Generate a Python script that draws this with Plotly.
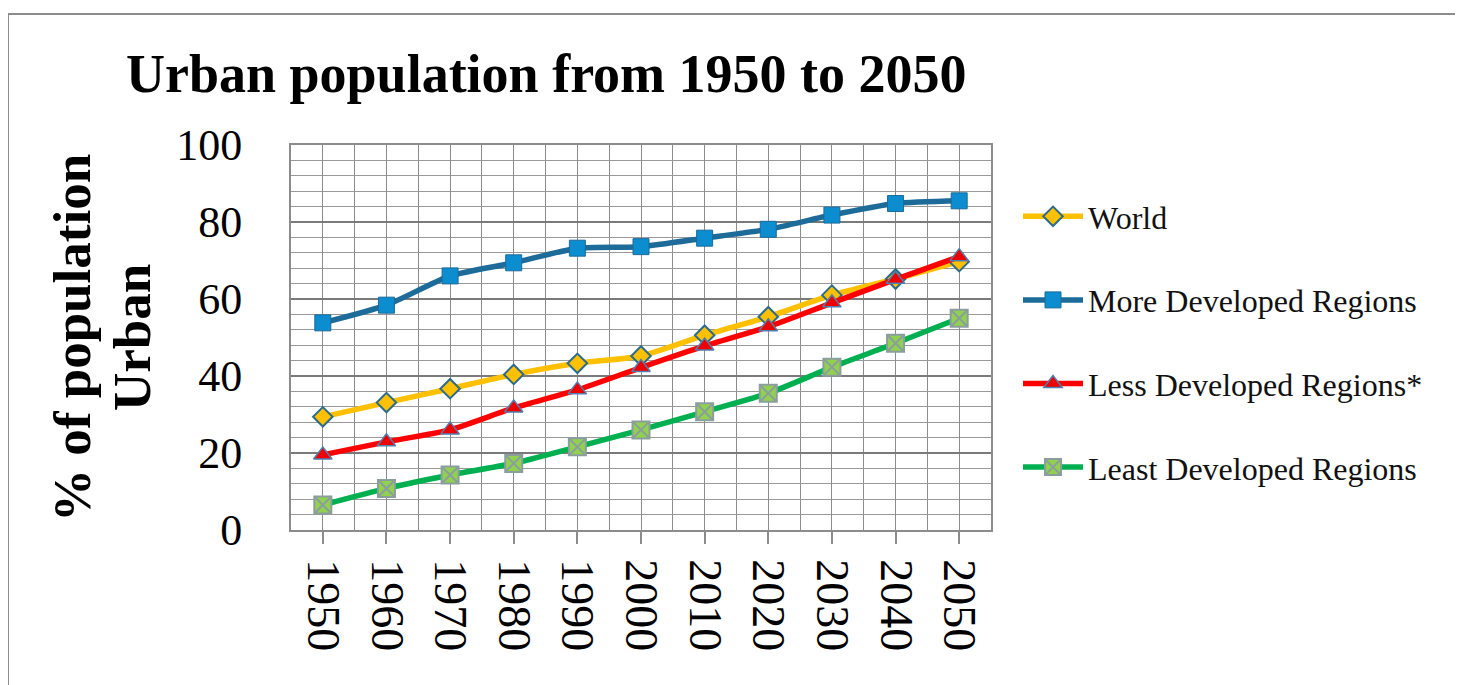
import plotly.graph_objects as go

years = [1950, 1960, 1970, 1980, 1990, 2000, 2010, 2020, 2030, 2040, 2050]
tick_labels = [str(y) for y in years]
world = [29.4, 33.1, 36.7, 40.4, 43.3, 45.2, 50.6, 55.4, 61.0, 65.2, 69.7]
more_dev = [53.8, 58.4, 66.0, 69.4, 73.2, 73.6, 75.8, 78.1, 81.8, 84.8, 85.5]
less_dev = [19.5, 22.9, 26.0, 31.7, 36.4, 42.2, 47.8, 52.8, 59.0, 65.1, 71.0]
least_dev = [6.5, 10.8, 14.3, 17.3, 21.6, 26.0, 30.7, 35.5, 42.3, 48.5, 55.0]

SERIF = "Liberation Serif, DejaVu Serif, serif"
W, H = 1463, 685
OFF = 8  # page offset of the figure in the browser
L, R, T, B = 283, 480, 137, 163
pw, ph = W - L - R, H - T - B

fig = go.Figure()

series = [
    ("World", world, "#FFC000", dict(symbol="diamond", size=15, color="#FFC000",
                                     line=dict(color="#2B6C8C", width=2))),
    ("More Developed Regions", more_dev, "#1D6B99", dict(symbol="square", size=16, color="#0B8DCF",
                                                         line=dict(color="#1D6B99", width=1))),
    ("Less Developed Regions*", less_dev, "#FF0000", dict(symbol="triangle-up", size=16, color="#EE0000",
                                                          line=dict(color="#4F7FAF", width=1.5))),
    ("Least Developed Regions", least_dev, "#00B050", dict(symbol="square-x", size=17, color="#92D050",
                                                           line=dict(color="#8A9E9E", width=2))),
]
for i, (name, vals, col, mk) in enumerate(series):
    fig.add_trace(go.Scatter(
        x=years, y=vals, name=name, mode="lines+markers",
        line=dict(color=col, width=5.5, shape="spline", smoothing=0.6),
        marker=mk, legendgroup=f"g{i}",
    ))

def px_to_paper_x(px):
    return (px - OFF - L) / pw

def px_to_paper_y(py):
    return (H - B - (py - OFF)) / ph

fig.update_layout(
    width=W, height=H,
    margin=dict(l=L, r=R, t=T, b=B),
    paper_bgcolor="white", plot_bgcolor="white",
    font=dict(family=SERIF, color="#000000"),
    showlegend=True,
    legend=dict(
        x=px_to_paper_x(1018), y=px_to_paper_y(189), xanchor="left", yanchor="top",
        font=dict(size=32, family=SERIF, color="#111111"),
        tracegroupgap=39, itemwidth=60, bgcolor="rgba(0,0,0,0)",
    ),
    xaxis=dict(
        range=[1945, 2055], tickvals=years, ticktext=tick_labels,
        tickangle=90, tickfont=dict(size=46, family=SERIF),
        showgrid=True, gridcolor="#8C8C8C", gridwidth=1,
        ticks="outside", ticklen=12, tickcolor="#8C8C8C", tickwidth=1.5,
        showline=True, linecolor="#8C8C8C", linewidth=2, mirror=True,
        minor=dict(tickvals=[1945 + 10 * k for k in range(12)], showgrid=True,
                   gridcolor="#8C8C8C", gridwidth=1),
        zeroline=False, ticklabelstandoff=6,
    ),
    yaxis=dict(
        range=[0, 100], dtick=20, tick0=0,
        tickfont=dict(size=44, family=SERIF),
        showgrid=True, gridcolor="#7A7A7A", gridwidth=1.5,
        showline=True, linecolor="#8C8C8C", linewidth=2, mirror=True,
        minor=dict(dtick=4, showgrid=True, gridcolor="#999999", gridwidth=1),
        zeroline=False, ticks="", ticklabelstandoff=38,
    ),
    shapes=[dict(type="rect", xref="paper", yref="paper",
                 x0=px_to_paper_x(8), x1=px_to_paper_x(1458),
                 y0=px_to_paper_y(720), y1=px_to_paper_y(14),
                 line=dict(color="#8C8C8C", width=2), fillcolor="rgba(0,0,0,0)", layer="below")],
    annotations=[
        dict(text="<b>Urban population from 1950 to 2050</b>", xref="paper", yref="paper",
             x=px_to_paper_x(124), y=px_to_paper_y(74), xanchor="left", yanchor="middle",
             showarrow=False, font=dict(size=54, family=SERIF, color="#000000")),
        dict(text="<b>% of population</b>", xref="paper", yref="paper",
             x=px_to_paper_x(72), y=px_to_paper_y(338), xanchor="center", yanchor="middle",
             textangle=-90, showarrow=False, font=dict(size=53, family=SERIF, color="#000000")),
        dict(text="<b>Urban</b>", xref="paper", yref="paper",
             x=px_to_paper_x(132), y=px_to_paper_y(338), xanchor="center", yanchor="middle",
             textangle=-90, showarrow=False, font=dict(size=53, family=SERIF, color="#000000")),
    ],
)

fig.write_html("out.html")
